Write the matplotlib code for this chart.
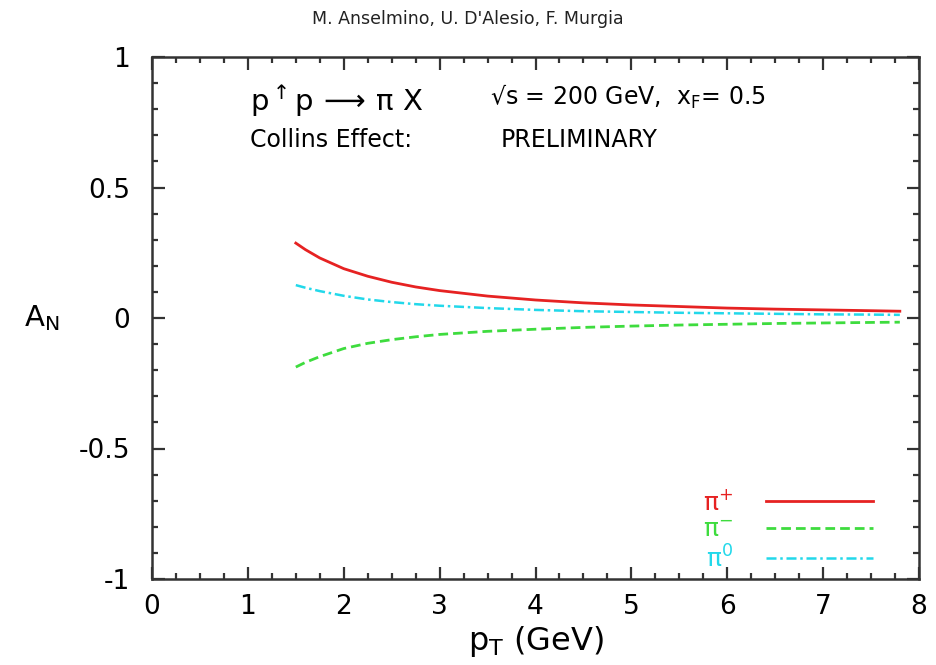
import matplotlib
matplotlib.use("Agg")
import matplotlib.pyplot as plt
from matplotlib.ticker import MultipleLocator, FixedLocator

plt.rcParams['font.family'] = ['DejaVu Sans']
plt.rcParams['mathtext.fontset'] = 'dejavusans'

# Collins-effect single spin asymmetry A_N versus p_T
pt = [1.5, 1.6, 1.75, 2.0, 2.25, 2.5, 2.75, 3.0, 3.5, 4.0, 4.5, 5.0, 5.5,
      6.0, 6.5, 7.0, 7.5, 7.8]
an_pi_plus = [0.287, 0.262, 0.230, 0.189, 0.160, 0.137, 0.119, 0.105, 0.084,
              0.069, 0.058, 0.050, 0.044, 0.038, 0.034, 0.031, 0.028, 0.026]
an_pi_minus = [-0.188, -0.170, -0.148, -0.117, -0.097, -0.083, -0.072, -0.063,
               -0.051, -0.043, -0.036, -0.031, -0.027, -0.024, -0.021, -0.019,
               -0.017, -0.016]
an_pi_zero = [0.126, 0.116, 0.103, 0.085, 0.071, 0.061, 0.053, 0.047, 0.038,
              0.031, 0.026, 0.023, 0.020, 0.018, 0.016, 0.014, 0.013, 0.012]

x_ticks = [0, 1, 2, 3, 4, 5, 6, 7, 8]
y_ticks = [-1, -0.5, 0, 0.5, 1]
y_tick_labels = ['-1', '-0.5', '0', '0.5', '1']

fig = plt.figure(figsize=(9.36, 6.65), dpi=100)
ax = fig.add_axes([152 / 936, 86 / 665, 767 / 936, 522 / 665])

ax.plot(pt, an_pi_plus, color='#e62222', lw=2.0, ls='-', label='\u03c0$^{+}$')
ax.plot(pt, an_pi_minus, color='#3edc3e', lw=2.0, ls=(0, (3.5, 1.8)),
        label='\u03c0$^{-}$')
ax.plot(pt, an_pi_zero, color='#22d8ea', lw=1.8, ls=(0, (4, 1.5, 1, 1.5)),
        label='\u03c0$^{0}$')

ax.set_xlim(0, 8)
ax.set_ylim(-1, 1)
ax.xaxis.set_major_locator(FixedLocator(x_ticks))
ax.xaxis.set_minor_locator(MultipleLocator(0.25))
ax.yaxis.set_major_locator(FixedLocator(y_ticks))
ax.yaxis.set_minor_locator(MultipleLocator(0.1))
ax.set_yticklabels(y_tick_labels)
ax.tick_params(which='both', direction='in', top=True, right=True,
               width=1.6, color='#333333')
ax.tick_params(which='major', length=9)
ax.tick_params(which='minor', length=4.5)
ax.tick_params(axis='x', which='major', labelsize=19, pad=11)
ax.tick_params(axis='y', which='major', labelsize=19, pad=16)
for sp in ax.spines.values():
    sp.set_linewidth(1.8)
    sp.set_color('#333333')

ax.set_xlabel(r'p$_{\mathrm{T}}$ (GeV)', fontsize=23, labelpad=3)
ax.set_ylabel(r'A$_{\mathrm{N}}$', fontsize=21, rotation=0, labelpad=26,
              va='center')

fig.text(0.5, 0.972, "M. Anselmino, U. D'Alesio, F. Murgia", fontsize=12.5,
         ha='center', va='center', color='#222222')

ax.text(0.128, 0.916, r'p$^{\uparrow}$p$\,\longrightarrow\,$$\mathrm{\pi}$ X',
        fontsize=21, transform=ax.transAxes, va='center', ha='left')
ax.text(0.441, 0.923, '\u221as = 200 GeV,  x$_{\\mathrm{F}}$= 0.5', fontsize=17,
        transform=ax.transAxes, va='center', ha='left')
ax.text(0.128, 0.841, 'Collins Effect:', fontsize=17,
        transform=ax.transAxes, va='center', ha='left')
ax.text(0.454, 0.841, 'PRELIMINARY', fontsize=17,
        transform=ax.transAxes, va='center', ha='left')

leg = ax.legend(loc='lower right', bbox_to_anchor=(0.97, -0.03), frameon=False,
                markerfirst=False, handlelength=4.3, handletextpad=1.3,
                fontsize=18, labelspacing=0.12, labelcolor='linecolor')

fig.savefig('out.png', dpi=100)
